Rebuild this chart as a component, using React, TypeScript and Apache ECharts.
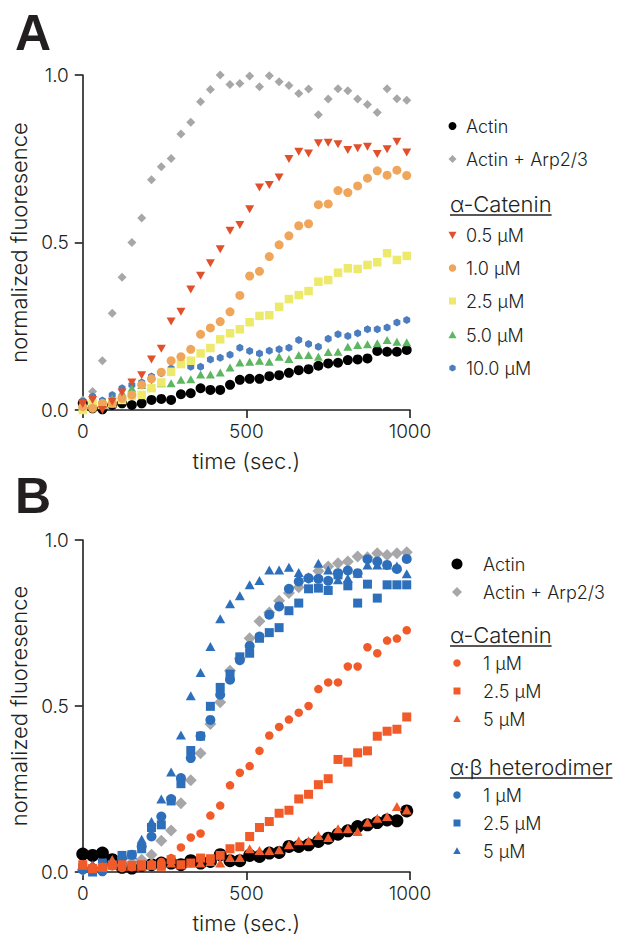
import React, { useEffect, useRef } from "react";
import * as echarts from "echarts";

// ---------- data ----------
const times = [0, 30, 60, 90, 120, 150, 180, 210, 240, 270, 300, 330, 360, 390, 420, 450, 480, 510, 540, 570, 600, 630, 660, 690, 720, 750, 780, 810, 840, 870, 900, 930, 960, 990];

// Panel A
const aActin = [0.02, 0.005, 0.002, 0.015, 0.02, 0.015, 0.02, 0.03, 0.033, 0.03, 0.047, 0.05, 0.065, 0.06, 0.06, 0.075, 0.09, 0.093, 0.093, 0.101, 0.104, 0.111, 0.119, 0.122, 0.132, 0.139, 0.141, 0.149, 0.151, 0.154, 0.176, 0.174, 0.174, 0.179];
const aArp = [0.03, 0.055, 0.147, 0.289, 0.396, 0.5, 0.573, 0.687, 0.726, 0.751, 0.824, 0.859, 0.92, 0.957, 1.0, 0.972, 0.975, 0.997, 0.965, 0.998, 0.98, 0.969, 0.945, 0.958, 0.881, 0.928, 0.959, 0.953, 0.928, 0.912, 0.888, 0.959, 0.929, 0.925];
const aCat05 = [0.018, 0.03, 0.0, 0.025, 0.052, 0.082, 0.104, 0.151, 0.183, 0.264, 0.293, 0.36, 0.401, 0.438, 0.48, 0.535, 0.552, 0.599, 0.664, 0.672, 0.694, 0.749, 0.771, 0.766, 0.796, 0.798, 0.793, 0.776, 0.781, 0.786, 0.764, 0.778, 0.801, 0.769];
const aCat10 = [0.01, 0.005, 0.02, 0.02, 0.035, 0.045, 0.075, 0.093, 0.113, 0.147, 0.159, 0.181, 0.226, 0.245, 0.264, 0.293, 0.342, 0.4, 0.414, 0.458, 0.493, 0.52, 0.55, 0.556, 0.613, 0.615, 0.655, 0.649, 0.669, 0.692, 0.714, 0.701, 0.716, 0.7];
const aCat25 = [0.0, 0.02, 0.015, 0.02, 0.03, 0.042, 0.045, 0.065, 0.082, 0.114, 0.137, 0.147, 0.169, 0.185, 0.211, 0.229, 0.241, 0.262, 0.281, 0.283, 0.308, 0.331, 0.343, 0.355, 0.383, 0.388, 0.41, 0.423, 0.421, 0.433, 0.441, 0.468, 0.448, 0.46];
const aCat50 = [0.015, 0.02, 0.015, 0.035, 0.052, 0.065, 0.075, 0.07, 0.08, 0.08, 0.09, 0.092, 0.106, 0.106, 0.112, 0.127, 0.142, 0.144, 0.147, 0.144, 0.159, 0.152, 0.164, 0.164, 0.159, 0.173, 0.174, 0.189, 0.194, 0.196, 0.199, 0.209, 0.204, 0.202];
const aCat100 = [0.025, 0.04, 0.028, 0.045, 0.065, 0.075, 0.082, 0.1, 0.11, 0.124, 0.137, 0.129, 0.129, 0.151, 0.156, 0.165, 0.186, 0.176, 0.169, 0.177, 0.181, 0.186, 0.209, 0.197, 0.189, 0.213, 0.226, 0.221, 0.229, 0.241, 0.241, 0.246, 0.261, 0.269];

// Panel B
const bActin = [0.054, 0.05, 0.057, 0.037, 0.014, 0.012, 0.02, 0.022, 0.027, 0.027, 0.022, 0.034, 0.027, 0.032, 0.052, 0.034, 0.034, 0.05, 0.047, 0.057, 0.059, 0.077, 0.077, 0.082, 0.092, 0.102, 0.114, 0.124, 0.137, 0.142, 0.149, 0.157, 0.154, 0.184];
const bArp = [0.007, 0.014, 0.012, 0.022, 0.02, 0.027, 0.037, 0.052, 0.094, 0.125, 0.207, 0.276, 0.358, 0.446, 0.511, 0.606, 0.643, 0.704, 0.755, 0.782, 0.817, 0.84, 0.858, 0.885, 0.907, 0.92, 0.93, 0.935, 0.95, 0.948, 0.96, 0.955, 0.96, 0.963];
const bCat1 = [0.022, 0.012, 0.014, 0.017, 0.012, 0.014, 0.02, 0.024, 0.03, 0.042, 0.074, 0.104, 0.116, 0.17, 0.2, 0.261, 0.299, 0.319, 0.365, 0.411, 0.437, 0.459, 0.48, 0.5, 0.551, 0.571, 0.571, 0.619, 0.619, 0.677, 0.659, 0.697, 0.703, 0.728];
const bCat25 = [0.022, 0.01, 0.014, 0.02, 0.022, 0.02, 0.022, 0.02, 0.017, 0.037, 0.022, 0.027, 0.042, 0.04, 0.05, 0.07, 0.076, 0.107, 0.134, 0.152, 0.177, 0.186, 0.22, 0.234, 0.263, 0.281, 0.339, 0.331, 0.359, 0.365, 0.409, 0.424, 0.43, 0.467];
const bCat5 = [0.02, 0.017, 0.017, 0.037, 0.017, 0.017, 0.017, 0.02, 0.022, 0.027, 0.022, 0.027, 0.027, 0.032, 0.027, 0.044, 0.044, 0.07, 0.065, 0.065, 0.067, 0.082, 0.094, 0.094, 0.11, 0.104, 0.13, 0.13, 0.122, 0.15, 0.162, 0.167, 0.197, 0.187];
const bHet1 = [0.007, 0.012, 0.002, 0.022, 0.042, 0.052, 0.077, 0.107, 0.167, 0.22, 0.283, 0.343, 0.41, 0.458, 0.534, 0.579, 0.638, 0.681, 0.709, 0.775, 0.8, 0.853, 0.875, 0.885, 0.883, 0.877, 0.9, 0.908, 0.9, 0.942, 0.935, 0.925, 0.913, 0.943];
const bHet25 = [0.012, 0.0, 0.027, 0.022, 0.05, 0.052, 0.07, 0.134, 0.142, 0.214, 0.266, 0.366, 0.409, 0.499, 0.556, 0.596, 0.648, 0.659, 0.704, 0.721, 0.736, 0.787, 0.81, 0.853, 0.855, 0.848, 0.895, 0.862, 0.81, 0.867, 0.825, 0.865, 0.865, 0.865];
const bHet5 = [0.017, 0.022, 0.022, 0.037, 0.032, 0.052, 0.099, 0.152, 0.22, 0.301, 0.413, 0.531, 0.601, 0.679, 0.763, 0.808, 0.832, 0.865, 0.878, 0.91, 0.91, 0.918, 0.902, 0.888, 0.93, 0.91, 0.88, 0.885, 0.9, 0.925, 0.925, 0.925, 0.922, 0.898];

const xTicks = [0, 500, 1000];
const yTicks = [0, 0.5, 1.0];

const FONT = "Inter, 'Liberation Sans', Arial, sans-serif";
const FW = 300;
const BOLD_FONT = "'Liberation Sans', Arial, sans-serif";
const INK = "#231f20";

const C = {
  black: "#000000",
  gray: "#a7a7a9",
  red: "#e0502b",
  orange: "#f0a65a",
  yellow: "#ede96b",
  green: "#5db761",
  blueA: "#4b7dbf",
  orangeB: "#f15a29",
  blueB: "#2d6fba",
};

const HEX = "path://M50,0 L93.3,25 L93.3,75 L50,100 L6.7,75 L6.7,25 Z";

const pts = (vals: number[]) => times.map((t, i) => [t, vals[i]]);

function measure(text: string, size: number): number {
  try {
    const ctx = document.createElement("canvas").getContext("2d");
    if (ctx) {
      ctx.font = `${FW} ${size}px ${FONT}`;
      return ctx.measureText(text).width;
    }
  } catch (e) {}
  return text.length * size * 0.55;
}

function icon(kind: string, cx: number, cy: number, s: number, color: string): any {
  const h = s / 2;
  const style = { fill: color };
  if (kind === "circle") return { type: "circle", shape: { cx, cy, r: h }, style };
  if (kind === "rect") return { type: "rect", shape: { x: cx - h, y: cy - h, width: s, height: s }, style };
  if (kind === "diamond") return { type: "polygon", shape: { points: [[cx, cy - h], [cx + h, cy], [cx, cy + h], [cx - h, cy]] }, style };
  if (kind === "up") return { type: "polygon", shape: { points: [[cx, cy - h], [cx + h, cy + h * 0.8], [cx - h, cy + h * 0.8]] }, style };
  if (kind === "down") return { type: "polygon", shape: { points: [[cx, cy + h], [cx + h, cy - h * 0.8], [cx - h, cy - h * 0.8]] }, style };
  return { type: "polygon", shape: { points: [[cx, cy - h], [cx + h * 0.9, cy - h / 2], [cx + h * 0.9, cy + h / 2], [cx, cy + h], [cx - h * 0.9, cy + h / 2], [cx - h * 0.9, cy - h / 2]] }, style };
}

function label(text: string, x: number, y: number, size: number, extra: any = {}): any {
  return {
    type: "text",
    x,
    y,
    style: { text, fontSize: size, fontFamily: FONT, fontWeight: FW, fill: INK, verticalAlign: "middle", align: "left", ...extra },
  };
}

function heading(text: string, x: number, y: number, underlineY: number): any[] {
  const size = 22;
  const w = measure(text, size);
  return [
    label(text, x, y, size),
    { type: "line", shape: { x1: x, y1: underlineY, x2: x + w, y2: underlineY }, style: { stroke: INK, lineWidth: 1.3 } },
  ];
}

function makeAxes(grid: number) {
  const axisLine = { show: true, lineStyle: { color: INK, width: 1.6 } };
  const axisTick = { show: true, length: 8, lineStyle: { color: INK, width: 1.6 } };
  const lab = { fontSize: 19, color: INK, fontFamily: FONT, fontWeight: FW };
  return {
    x: {
      type: "value",
      gridIndex: grid,
      min: xTicks[0],
      max: xTicks[xTicks.length - 1],
      interval: xTicks[1] - xTicks[0],
      axisLine,
      axisTick,
      splitLine: { show: false },
      axisLabel: { ...lab, margin: 12, formatter: (v: number) => String(v) },
      name: "time (sec.)",
      nameLocation: "middle",
      nameGap: 40,
      nameTextStyle: { fontSize: 22, color: INK, fontFamily: FONT, fontWeight: FW },
    },
    y: {
      type: "value",
      gridIndex: grid,
      min: yTicks[0],
      max: yTicks[yTicks.length - 1],
      interval: yTicks[1] - yTicks[0],
      axisLine,
      axisTick,
      splitLine: { show: false },
      axisLabel: { ...lab, margin: 14, formatter: (v: number) => v.toFixed(1) },
      name: "normalized fluoresence",
      nameLocation: "middle",
      nameGap: 44,
      nameTextStyle: { fontSize: 22, color: INK, fontFamily: FONT, fontWeight: FW },
    },
  };
}

function sc(name: string, grid: number, vals: number[], symbol: string, size: any, color: string, extra: any = {}) {
  return {
    type: "scatter",
    name,
    xAxisIndex: grid,
    yAxisIndex: grid,
    data: pts(vals),
    symbol,
    symbolSize: size,
    symbolKeepAspect: true,
    itemStyle: { color, opacity: 1 },
    clip: false,
    silent: true,
    ...extra,
  };
}

export default function App() {
  const ref = useRef<HTMLDivElement>(null);
  useEffect(() => {
    document.body.style.margin = "0";
    if (!ref.current) return;
    const chart = echarts.init(ref.current, undefined, { renderer: "svg" });
    const A = makeAxes(0);
    const B = makeAxes(1);

    const lAx = 452.5, lAt = 466;
    const lBx = 457, lBt = 483;

    const graphics: any[] = [
      label("A", 15, 33, 50, { fontWeight: "bold", fontFamily: BOLD_FONT }),
      label("B", 15, 496, 50, { fontWeight: "bold", fontFamily: BOLD_FONT }),
      // Legend A
      icon("circle", lAx, 126, 8, C.black), label("Actin", lAt, 126, 18),
      icon("diamond", lAx, 159, 8, C.gray), label("Actin + Arp2/3", lAt, 159, 18),
      ...heading("α-Catenin", 450, 204, 215),
      icon("down", lAx, 235, 8, C.red), label("0.5 µM", lAt, 235, 18),
      icon("circle", lAx, 268, 7.5, C.orange), label("1.0 µM", lAt, 268, 18),
      icon("rect", lAx, 301, 7, C.yellow), label("2.5 µM", lAt, 301, 18),
      icon("up", lAx, 335, 8, C.green), label("5.0 µM", lAt, 335, 18),
      icon("hex", lAx, 368, 7, C.blueA), label("10.0 µM", lAt, 368, 18),
      // Legend B
      icon("circle", lBx, 564, 11, C.black), label("Actin", lBt, 564, 18),
      icon("diamond", lBx, 592, 10, C.gray), label("Actin + Arp2/3", lBt, 592, 18),
      ...heading("α-Catenin", 450, 635, 646),
      icon("circle", lBx, 663, 7.5, C.orangeB), label("1 µM", lBt, 663, 18),
      icon("rect", lBx, 691, 7, C.orangeB), label("2.5 µM", lBt, 691, 18),
      icon("up", lBx, 719, 7.5, C.orangeB), label("5 µM", lBt, 719, 18),
      ...heading("α·β heterodimer", 450, 767, 778),
      icon("circle", lBx, 795, 7.5, C.blueB), label("1 µM", lBt, 795, 18),
      icon("rect", lBx, 823, 7, C.blueB), label("2.5 µM", lBt, 823, 18),
      icon("up", lBx, 851, 7.5, C.blueB), label("5 µM", lBt, 851, 18),
    ];

    chart.setOption({
      animation: false,
      backgroundColor: "#ffffff",
      textStyle: { fontFamily: FONT },
      grid: [
        { left: 76, top: 75, width: 334, height: 335 },
        { left: 76, top: 540, width: 334, height: 334 },
      ],
      xAxis: [A.x, B.x],
      yAxis: [A.y, B.y],
      series: [
        sc("Actin + Arp2/3", 0, aArp, "diamond", 9, C.gray),
        sc("Actin", 0, aActin, "circle", 10, C.black),
        sc("10.0 µM", 0, aCat100, HEX, 8, C.blueA),
        sc("5.0 µM", 0, aCat50, "triangle", [9, 8], C.green),
        sc("2.5 µM", 0, aCat25, "rect", 8.5, C.yellow),
        sc("1.0 µM", 0, aCat10, "circle", 9, C.orange),
        sc("0.5 µM", 0, aCat05, "triangle", [9, 8], C.red, { symbolRotate: 180 }),

        sc("Actin", 1, bActin, "circle", 13, C.black),
        sc("Actin + Arp2/3", 1, bArp, "diamond", 12, C.gray),
        sc("α·β 1 µM", 1, bHet1, "circle", 10, C.blueB),
        sc("α·β 2.5 µM", 1, bHet25, "rect", 9, C.blueB),
        sc("α·β 5 µM", 1, bHet5, "triangle", [10, 9], C.blueB),
        sc("α-Catenin 1 µM", 1, bCat1, "circle", 8.5, C.orangeB),
        sc("α-Catenin 2.5 µM", 1, bCat25, "rect", 9, C.orangeB),
        sc("α-Catenin 5 µM", 1, bCat5, "triangle", [10, 9], C.orangeB),
      ],
      graphic: graphics,
    });
    return () => chart.dispose();
  }, []);
  return <div ref={ref} style={{ width: 625, height: 935 }} />;
}
